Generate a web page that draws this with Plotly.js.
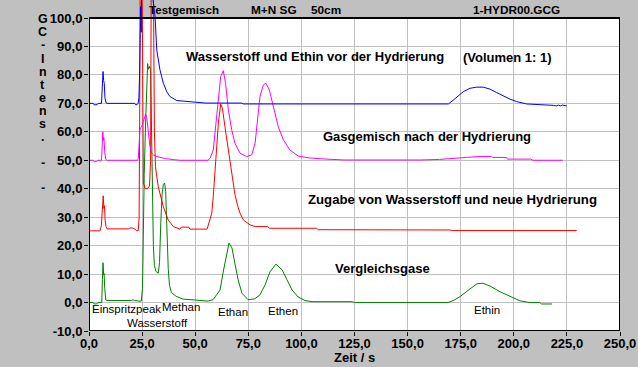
<!DOCTYPE html>
<html><head><meta charset="utf-8">
<script src="https://cdn.plot.ly/plotly-3.0.1.min.js"></script>
<style>html,body{margin:0;padding:0;background:#c0c0c0;overflow:hidden;}</style>
</head><body><div id="chart" style="width:638px;height:367px;"></div>
<script>
// ---- data (time in s, detector signal) ----
const blueX = [0,2.0,2.4,3.8,4.3,5.9,6.2,6.6,6.9,7.2,7.5,8.0,8.5,21.5,22.0,22.6,23.1,23.5,23.8,24.0,24.3,24.6,24.8,29.8,30.2,31.1,31.9,33.4,35.0,36.6,38.1,41.3,50.7,55,72,72.5,120,160,169.2,171.6,173.9,176.2,179.4,182.5,185.6,188.8,191.9,195.1,198.2,201.4,206,218.6,220,221,222,223,224.9];
const blueY = [70,70,69.5,69.5,70,70,75,81.2,78,77,72,70.2,70,70,69.5,69.5,70,72,80,104,104,95,115,115,106,100.5,88.8,81.8,77.1,74.1,72.4,71,70.3,70.1,70.1,69.8,69.8,69.7,69.8,71.2,72.6,74.1,75.3,75.7,75.7,75,73.8,72.6,71.5,70.6,69.8,69.3,69.1,69.4,69.1,69.4,69.1];

const pinkX = [0,2.0,2.4,3.6,4.1,5.9,6.2,6.5,6.8,7.0,7.4,7.9,8.5,22.8,23.2,23.6,24.0,24.5,25.0,25.5,26.0,26.7,27.2,27.9,28.7,29.5,30.5,31.9,36,40,43,56,57,58.5,59.3,60.1,60.9,62,63.2,64.3,65.6,67.2,68.7,71.1,74.2,76.6,78.2,79.7,80.5,82.1,83.3,84.9,86.8,89.1,91.5,94.6,98.5,104,110,120,156,165,177.8,183,189.6,190,196.6,197,208,209,223];
const pinkY = [50,50,49.5,49.5,50,50,55,60,57,58,53,50.3,50,50,50.5,56,61,61.5,62.2,63.5,64.8,66.2,65,59.5,54.8,52.5,51.8,51.3,50.6,50.2,50,50,50.7,53.6,59.5,65.3,71.2,79.4,81.5,77.1,67.7,60.7,56,52.5,51.3,51.9,56,65.3,72.4,76.5,77.1,74.7,68.9,61.8,57.2,53.6,51.5,50.8,50.5,50.1,50.1,50.3,51,51.3,51.3,51,51,50.4,50.4,50,50];

const redX = [0,5.2,5.8,6.2,6.7,7.0,7.3,7.6,8.0,8.5,18.5,19.3,20.5,21.5,22.4,23.2,23.6,23.9,24.1,25.0,25.3,25.6,26.5,27.5,28.5,29.0,29.3,30.3,30.8,31.3,32.6,35.0,37.3,39.7,42.8,43.5,47,47.5,55.6,56.2,57.8,58.5,59.3,60.1,60.9,62,62.8,64,65.6,67.2,68.7,70.0,71.1,72.7,75.8,78.2,84,85,107,108,155.8,170,171,229.6];
const redY = [25.2,25.2,27,33,37.5,33.1,34,29,26.7,25.9,25.9,26.2,26.2,25.9,25.2,25.3,30,70,115,115,70,42,40,40,41,50,115,115,60,47.7,40.7,33.7,29,26.7,25.8,26.5,26.5,25.8,25.8,27.3,31.4,37.2,45.5,53.6,63,69.8,68.3,61.8,53.6,44,38,34,31.4,29,27.3,26.7,26.7,26.1,26.1,25.6,25.6,25.5,25.3,25.3];

const greenX = [0,2.0,2.5,3.6,4.2,6.0,6.3,6.6,6.9,7.1,7.4,7.9,8.5,20.0,20.7,21.5,23.5,24.6,25.2,25.5,26.0,26.6,27.2,27.6,28.0,28.5,29.0,29.4,29.8,30.3,30.8,31.5,32.6,33.2,33.8,34.4,35.0,35.6,36.1,36.7,37.3,37.9,38.8,41.0,44.3,50.0,56.0,58.4,60.0,61.7,63.1,64.5,65.9,67.3,68.7,70.2,72.0,74.9,78.0,80.5,82.9,85.2,88.0,90.9,93.2,95.6,98.4,101.7,105,124,125,169,171.5,174.7,179.4,182.7,185.5,188.8,193.5,198.2,202.9,207.6,212.3,213,218];
const greenY = [0,0,-0.5,-0.5,0,0,8,14,9.7,10.2,5,0.9,0.7,0.7,1.0,0.7,0.5,0.5,5,25,45,62,76,84,82,83,82,60,35,20,13,11,10.3,14,28,38,41.5,42,39,25,12,6,3.5,2.2,1.2,0.9,0.5,1,2.5,4.4,10.4,16,20.9,19.2,13.9,8,3.3,1,1.3,2.7,6.2,10.8,13.5,11.5,8,4.4,2,0.7,0.3,0.3,0,0,0.7,2.1,4.8,6.6,6.8,5.8,3.8,2.1,0.6,0,0,-0.5,-0.5];

const xTickVals = [0,25,50,75,100,125,150,175,200,225,250];
const yTickVals = [-10,0,10,20,30,40,50,60,70,80,90,100];
const fmt = v => v.toFixed(1).replace('.', ',');

const FONT = 'Liberation Sans, Arial, sans-serif';
const mk = (x, y, c) => ({x: x, y: y, type: 'scatter', mode: 'lines', line: {color: c, width: 1}, hoverinfo: 'skip', showlegend: false});

const traces = [
  mk(greenX, greenY, '#008000'),
  mk(redX, redY, '#ff0000'),
  mk(pinkX, pinkY, '#ff00ff'),
  mk(blueX, blueY, '#0000ff')
];

const ann = [];
function addText(text, x, y, size, bold, opts) {
  opts = opts || {};
  const a = {text: text, x: x, y: y, xref: opts.xref || 'x', yref: opts.yref || 'y', showarrow: false,
    xanchor: opts.xanchor || 'left', yanchor: 'middle', borderpad: 0,
    font: {family: FONT, size: size, color: '#000', weight: bold ? 700 : 400}};
  if (opts.height) a.height = opts.height;
  ann.push(a);
}
// header
addText('Testgemisch', 27.6, 102.9, 11.6, true);
addText('M+N SG', 75.8, 102.9, 11.8, true);
addText('50cm', 104, 102.9, 11.8, true);
addText('1-HYDR00.GCG', 180.3, 102.9, 11.8, true);
// series captions
addText('Wasserstoff und Ethin vor der Hydrierung', 45.3, 86.3, 13, true);
addText('(Volumen 1: 1)', 175.6, 86.0, 13, true);
addText('Gasgemisch nach der Hydrierung', 109.8, 58.3, 13, true);
addText('Zugabe von Wasserstoff und neue Hydrierung', 102.6, 36.1, 13.2, true);
addText('Vergleichsgase', 115.2, 11.8, 13, true);
// peak labels
addText('Einspritzpeak', 0.9, -2.2, 11.5, false);
addText('Wasserstoff', 17.4, -7.3, 11.5, false);
addText('Methan', 33.7, -1.4, 11.5, false);
addText('Ethan', 60.1, -3.2, 11.5, false);
addText('Ethen', 84.0, -3.0, 11.5, false);
addText('Ethin', 180.6, -2.6, 11.5, false);
// x axis title (paper coordinates, below the plot area)
addText('Zeit / s', (354 - 89) / 531, (331 - 357) / 331, 13, true, {xref: 'paper', yref: 'paper', xanchor: 'center'});
// vertical y axis title letters
const yTitleChars = ['G','C','-','I','n','t','e','n','s','.','-','-'];
const yTitlePix = [19,31,45,59,71,84,97,110,123,136,162,188];
yTitleChars.forEach((c, i) => {
  addText(c, (42.5 - 89) / 531, (331 - yTitlePix[i]) / 331, 12.5, true, {xref: 'paper', yref: 'paper', xanchor: 'center', height: 11});
});

const layout = {
  width: 638, height: 367,
  margin: {l: 89, r: 18, t: 0, b: 36, pad: 0},
  paper_bgcolor: '#c0c0c0', plot_bgcolor: '#c0c0c0',
  showlegend: false,
  xaxis: {range: [0, 250], tickmode: 'array', tickvals: xTickVals, ticktext: xTickVals.map(fmt),
    showgrid: true, gridcolor: '#c0c0c0', gridwidth: 1, zeroline: false, showline: false,
    ticks: 'outside', ticklen: 4, tickcolor: '#000', tickwidth: 1, ticklabelstandoff: -4,
    tickfont: {family: FONT, size: 13, color: '#000', weight: 700}, fixedrange: true},
  yaxis: {range: [-10, 106.33], tickmode: 'array', tickvals: yTickVals, ticktext: yTickVals.map(fmt),
    showgrid: true, gridcolor: '#c0c0c0', gridwidth: 1, zeroline: false, showline: false,
    ticks: 'outside', ticklen: 4, tickcolor: '#000', tickwidth: 1, ticklabelstandoff: -1,
    tickfont: {family: FONT, size: 13, color: '#000', weight: 700}, fixedrange: true},
  shapes: [
    {type: 'rect', xref: 'x', yref: 'y', x0: 0, x1: 250, y0: -10, y1: 100, layer: 'below',
      fillcolor: '#ffffff', line: {width: 0}},
    {type: 'rect', xref: 'x', yref: 'y', x0: 0, x1: 250, y0: -10, y1: 100, layer: 'above',
      fillcolor: 'rgba(0,0,0,0)', line: {color: '#000', width: 2}}
  ],
  annotations: ann
};

Plotly.newPlot('chart', traces, layout, {staticPlot: true, displayModeBar: false});
</script>
</body></html>
